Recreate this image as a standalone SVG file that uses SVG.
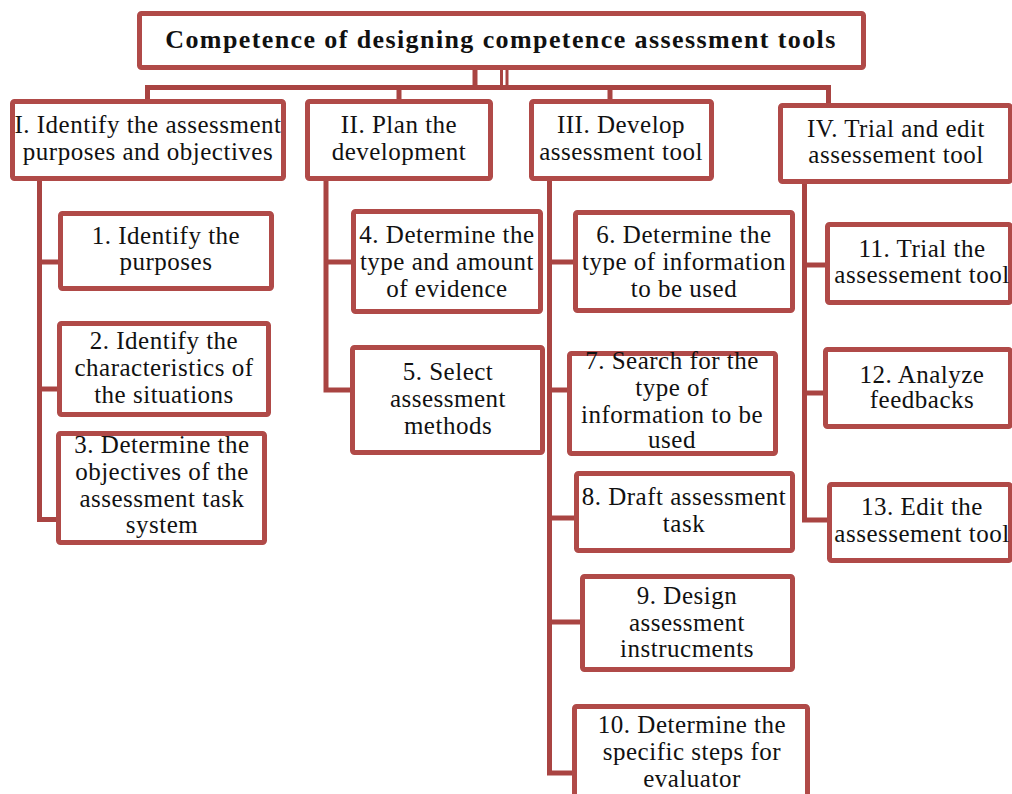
<svg xmlns="http://www.w3.org/2000/svg" width="1012" height="794" viewBox="0 0 1012 794">
  <style>
    .box { fill: #ffffff; stroke: #b04a48; stroke-width: 5; }
    .link { fill: none; stroke: #a94442; stroke-width: 5; stroke-linejoin: miter; }
    .lbl { font-family: "Liberation Serif", "Times New Roman", serif; font-size: 25px; letter-spacing: 0.5px; fill: #111111; text-anchor: middle; }
    .title { font-family: "Liberation Serif", "Times New Roman", serif; font-size: 26px; font-weight: bold; letter-spacing: 1.4px; fill: #111111; text-anchor: middle; }
  </style>
  <rect width="1012" height="794" fill="#ffffff"/>

  <!-- connectors -->
  <g id="connectors">
    <path class="link" d="M475,68 V87.5"/>
    <path class="link" style="stroke-width:3" d="M501.5,68 V87.5"/>
    <path class="link" style="stroke-width:3" d="M507,68 V87.5"/>
    <path class="link" d="M147.5,101 V87.5 H828.5 V105"/>
    <path class="link" d="M399,87.5 V101"/>
    <path class="link" d="M610,87.5 V101"/>
    <!-- I -->
    <path class="link" d="M39.5,179 V519.5 H58"/>
    <path class="link" d="M39.5,262 H60"/>
    <path class="link" d="M39.5,389 H59"/>
    <!-- II -->
    <path class="link" d="M326,179 V390 H352"/>
    <path class="link" d="M326,262 H353"/>
    <!-- III -->
    <path class="link" d="M549.5,179 V773 H574"/>
    <path class="link" d="M549.5,262 H575"/>
    <path class="link" d="M549.5,390 H569"/>
    <path class="link" d="M549.5,518 H576"/>
    <path class="link" d="M549.5,622 H582"/>
    <!-- IV -->
    <path class="link" d="M804.5,182 V520 H829"/>
    <path class="link" d="M804.5,265 H827"/>
    <path class="link" d="M804.5,393 H825"/>
  </g>

  <g id="root">
    <rect class="box" x="139.5" y="13.5" width="724" height="54" rx="2"/>
    <text class="title" x="501" y="48">Competence of designing competence assessment tools</text>
  </g>

  <g id="stage1">
    <rect class="box" x="12.5" y="101.5" width="271" height="77" rx="2"/>
    <text class="lbl" x="148" y="133">I. Identify the assessment</text>
    <text class="lbl" x="148" y="160">purposes and objectives</text>
  </g>
  <g id="stage2">
    <rect class="box" x="307.5" y="101.5" width="183" height="77" rx="2"/>
    <text class="lbl" x="399" y="133">II. Plan the</text>
    <text class="lbl" x="399" y="160">development</text>
  </g>
  <g id="stage3">
    <rect class="box" x="531.5" y="101.5" width="180" height="77" rx="2"/>
    <text class="lbl" x="621" y="133">III. Develop</text>
    <text class="lbl" x="621" y="160">assessment tool</text>
  </g>
  <g id="stage4">
    <rect class="box" x="780.5" y="105.5" width="230" height="76" rx="2"/>
    <text class="lbl" x="896" y="137">IV. Trial and edit</text>
    <text class="lbl" x="896" y="163">assessement tool</text>
  </g>

  <g id="step1">
    <rect class="box" x="60.5" y="213.5" width="211" height="75" rx="2"/>
    <text class="lbl" x="166" y="244">1. Identify the</text>
    <text class="lbl" x="166" y="270">purposes</text>
  </g>
  <g id="step2">
    <rect class="box" x="59.5" y="323.5" width="209" height="91" rx="2"/>
    <text class="lbl" x="164" y="349">2. Identify the</text>
    <text class="lbl" x="164" y="376">characteristics of</text>
    <text class="lbl" x="164" y="403">the situations</text>
  </g>
  <g id="step3">
    <rect class="box" x="58.5" y="433.5" width="206" height="109" rx="2"/>
    <text class="lbl" x="162" y="453">3. Determine the</text>
    <text class="lbl" x="162" y="480">objectives of the</text>
    <text class="lbl" x="162" y="507">assessment task</text>
    <text class="lbl" x="162" y="533">system</text>
  </g>

  <g id="step4">
    <rect class="box" x="353.5" y="211.5" width="187" height="100" rx="2"/>
    <text class="lbl" x="447" y="243">4. Determine the</text>
    <text class="lbl" x="447" y="270">type and amount</text>
    <text class="lbl" x="447" y="297">of evidence</text>
  </g>
  <g id="step5">
    <rect class="box" x="352.5" y="347.5" width="190" height="105" rx="2"/>
    <text class="lbl" x="448" y="380">5. Select</text>
    <text class="lbl" x="448" y="407">assessment</text>
    <text class="lbl" x="448" y="434">methods</text>
  </g>

  <g id="step6">
    <rect class="box" x="575.5" y="212.5" width="217" height="98" rx="2"/>
    <text class="lbl" x="684" y="243">6. Determine the</text>
    <text class="lbl" x="684" y="270">type of information</text>
    <text class="lbl" x="684" y="297">to be used</text>
  </g>
  <g id="step7">
    <rect class="box" x="569.5" y="353.5" width="206" height="100" rx="2"/>
    <text class="lbl" x="672" y="369">7. Search for the</text>
    <text class="lbl" x="672" y="396">type of</text>
    <text class="lbl" x="672" y="423">information to be</text>
    <text class="lbl" x="672" y="448">used</text>
  </g>
  <g id="step8">
    <rect class="box" x="576.5" y="473.5" width="216" height="77" rx="2"/>
    <text class="lbl" x="684" y="505">8. Draft assessment</text>
    <text class="lbl" x="684" y="532">task</text>
  </g>
  <g id="step9">
    <rect class="box" x="582.5" y="576.5" width="210" height="93" rx="2"/>
    <text class="lbl" x="687" y="604">9. Design</text>
    <text class="lbl" x="687" y="631">assessment</text>
    <text class="lbl" x="687" y="657">instrucments</text>
  </g>
  <g id="step10">
    <rect class="box" x="574.5" y="706.5" width="233" height="100" rx="2"/>
    <text class="lbl" x="692" y="733">10. Determine the</text>
    <text class="lbl" x="692" y="760">specific steps for</text>
    <text class="lbl" x="692" y="787">evaluator</text>
  </g>

  <g id="step11">
    <rect class="box" x="827.5" y="224.5" width="183" height="78" rx="2"/>
    <text class="lbl" x="922" y="257">11. Trial the</text>
    <text class="lbl" x="922" y="283">assessement tool</text>
  </g>
  <g id="step12">
    <rect class="box" x="825.5" y="349.5" width="185" height="77" rx="2"/>
    <text class="lbl" x="922" y="383">12. Analyze</text>
    <text class="lbl" x="922" y="408">feedbacks</text>
  </g>
  <g id="step13">
    <rect class="box" x="829.5" y="484.5" width="181" height="76" rx="2"/>
    <text class="lbl" x="922" y="515">13. Edit the</text>
    <text class="lbl" x="922" y="542">assessement tool</text>
  </g>
</svg>
